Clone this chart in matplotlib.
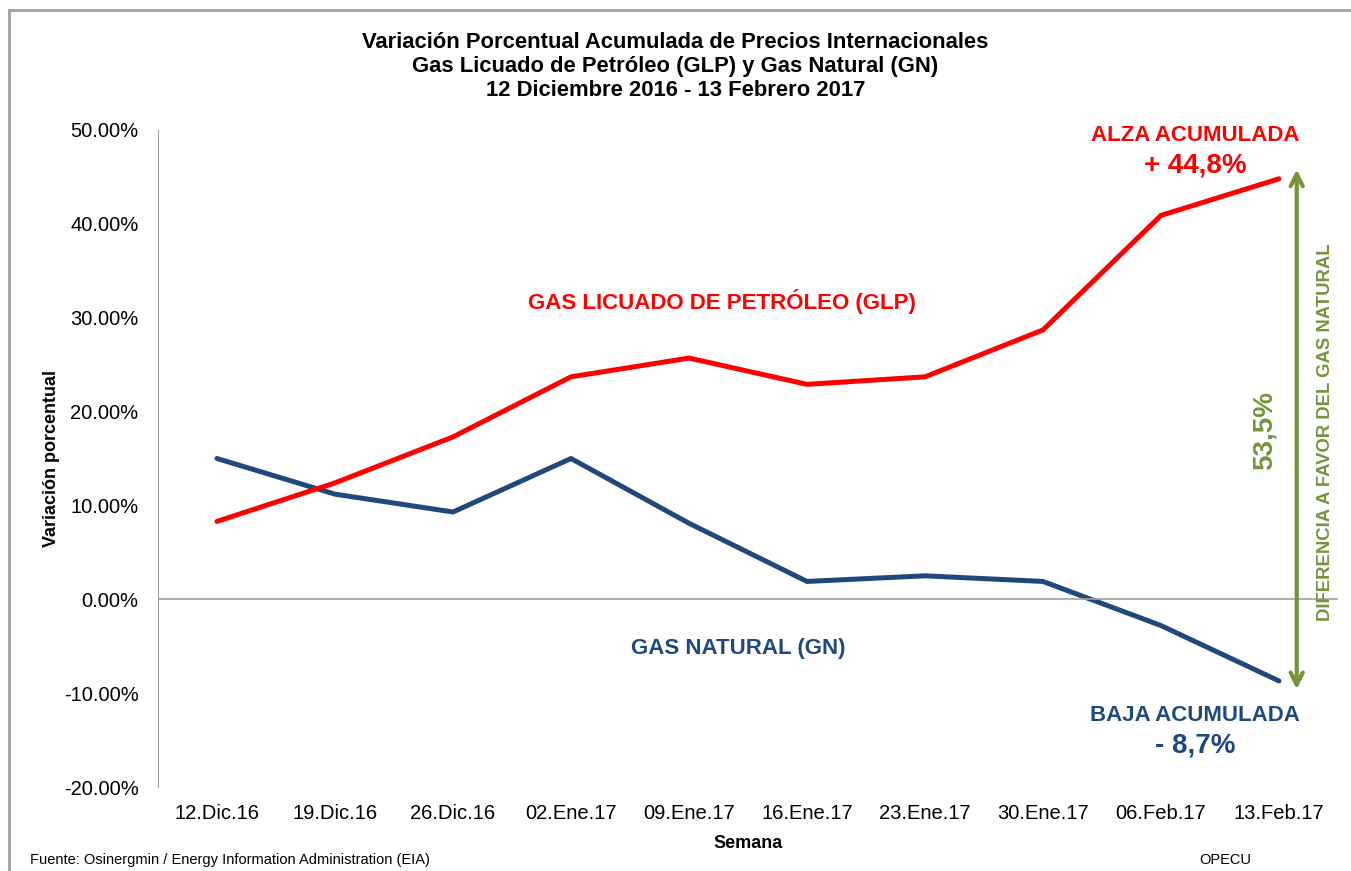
import matplotlib
matplotlib.use("Agg")
import matplotlib.pyplot as plt
from matplotlib.patches import Rectangle
from matplotlib.ticker import FuncFormatter

plt.rcParams["font.family"] = ["Liberation Sans", "DejaVu Sans"]

semanas = ["12.Dic.16", "19.Dic.16", "26.Dic.16", "02.Ene.17", "09.Ene.17",
           "16.Ene.17", "23.Ene.17", "30.Ene.17", "06.Feb.17", "13.Feb.17"]
glp = [8.3, 12.4, 17.3, 23.7, 25.7, 22.9, 23.7, 28.7, 40.9, 44.8]
gn = [15.0, 11.2, 9.3, 15.0, 8.1, 1.9, 2.5, 1.9, -2.8, -8.7]

ROJO = "#FF0000"
AZUL = "#1F497D"
VERDE = "#77933C"

fig = plt.figure(figsize=(13.51, 8.71), dpi=100)
# marco gris del grafico
fig.add_artist(Rectangle((9 / 1351, -0.01), 1.0, 1 - 10 / 871 + 0.01,
                         transform=fig.transFigure, fill=False,
                         edgecolor="#A0A0A0", linewidth=2))
ax = fig.add_axes([158 / 1351, 1 - 787 / 871, 1180 / 1351, 657 / 871])

x = list(range(len(semanas)))
ax.plot(x, gn, color=AZUL, lw=3.6, solid_capstyle="round", solid_joinstyle="miter")
ax.plot(x, glp, color=ROJO, lw=3.6, solid_capstyle="round", solid_joinstyle="miter")

ax.set_xlim(-0.5, len(semanas) - 0.5)
ax.set_ylim(-20, 50)
ax.set_yticks(range(-20, 51, 10))
ax.yaxis.set_major_formatter(FuncFormatter(lambda v, p: f"{v:.2f}%"))
ax.set_xticks(x)
ax.set_xticklabels(semanas)
ax.tick_params(axis="both", length=0, labelsize=14.5, colors="black")
ax.tick_params(axis="y", pad=14)
ax.tick_params(axis="x", pad=12)

for s in ["top", "right", "bottom"]:
    ax.spines[s].set_visible(False)
ax.spines["left"].set_color("#A0A0A0")
ax.axhline(0, color="#A0A0A0", lw=1.2)

ax.set_ylabel("Variación porcentual", fontsize=13, fontweight="bold", labelpad=3)
ax.set_xlabel("Semana", fontsize=13, fontweight="bold", labelpad=9)

titulo = ["Variación Porcentual Acumulada de Precios Internacionales",
          "Gas Licuado de Petróleo (GLP) y Gas Natural (GN)",
          "12 Diciembre 2016 - 13 Febrero 2017"]
for i, linea in enumerate(titulo):
    fig.text(0.5, 1 - (42 + 24.5 * i) / 871, linea, ha="center", va="center",
             fontsize=15.8, fontweight="bold")

# etiquetas de series
ax.text(4.28, 31.7, "GAS LICUADO DE PETRÓLEO (GLP)", color=ROJO, fontsize=16,
        fontweight="bold", ha="center", va="center")
ax.text(4.42, -5.2, "GAS NATURAL (GN)", color=AZUL, fontsize=16,
        fontweight="bold", ha="center", va="center")
ax.text(8.29, 49.4, "ALZA ACUMULADA", color=ROJO, fontsize=16,
        fontweight="bold", ha="center", va="center")
ax.text(8.29, 46.2, f"+ {glp[-1]:.1f}%".replace(".", ","), color=ROJO, fontsize=20,
        fontweight="bold", ha="center", va="center")
ax.text(8.29, -12.4, "BAJA ACUMULADA", color=AZUL, fontsize=16,
        fontweight="bold", ha="center", va="center")
ax.text(8.29, -15.6, f"- {abs(gn[-1]):.1f}%".replace(".", ","), color=AZUL, fontsize=20,
        fontweight="bold", ha="center", va="center")

# flecha de diferencia
ax.annotate("", xy=(9.15, 45.8), xytext=(9.15, -9.6),
            arrowprops=dict(arrowstyle="<->", color=VERDE, lw=3,
                            mutation_scale=22, shrinkA=0, shrinkB=0),
            annotation_clip=False)
dif = glp[-1] - gn[-1]
ax.text(8.88, 18.0, f"{dif:.1f}%".replace(".", ","), color=VERDE, fontsize=20,
        fontweight="bold", rotation=90, ha="center", va="center")
ax.text(9.39, 17.8, "DIFERENCIA A FAVOR DEL GAS NATURAL", color=VERDE, fontsize=13.3,
        fontweight="bold", rotation=90, ha="center", va="center", clip_on=False)

fig.text(30 / 1351, 1 - 860 / 871, "Fuente: Osinergmin / Energy Information Administration (EIA)",
         fontsize=10.5, ha="left", va="center")
fig.text(1225 / 1351, 1 - 860 / 871, "OPECU", fontsize=10.5, ha="center", va="center")

fig.savefig("out.png", dpi=100)
